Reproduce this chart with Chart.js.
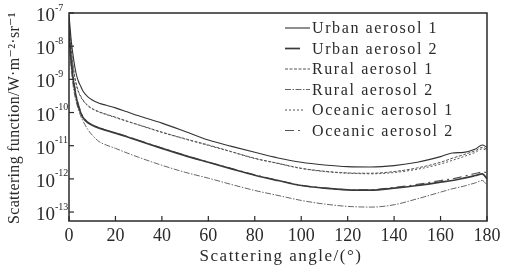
<!DOCTYPE html>
<html><head><meta charset="utf-8">
<script src="https://cdn.jsdelivr.net/npm/chart.js@4/dist/chart.umd.min.js"></script>
<style>html,body{margin:0;padding:0;background:#fff;}canvas{display:block;}</style>
</head><body>
<canvas id="c" width="505" height="271"></canvas>
<script>
const angles = [0,1,2,3,4,5,6,8,10,13,16,20,25,30,40,50,60,70,80,90,100,110,120,130,140,150,160,165,170,175,178,180];
const urban1 = [8.9e-8,1.41e-8,3.98e-9,1.58e-9,8.9e-10,6.3e-10,4.47e-10,3.02e-10,2.4e-10,1.9e-10,1.66e-10,1.38e-10,1.05e-10,7.94e-11,4.79e-11,2.69e-11,1.48e-11,9.55e-12,6.31e-12,4.27e-12,3.16e-12,2.63e-12,2.34e-12,2.29e-12,2.51e-12,3.16e-12,4.68e-12,6.03e-12,6.31e-12,7.94e-12,1.05e-11,8.91e-12];
const urban2 = [2.51e-8,3.16e-9,7.94e-10,3.16e-10,1.58e-10,1.0e-10,7.08e-11,5.01e-11,4.17e-11,3.39e-11,2.88e-11,2.4e-11,1.86e-11,1.41e-11,8.32e-12,5.01e-12,3.16e-12,2.0e-12,1.29e-12,8.91e-13,6.31e-13,5.25e-13,4.68e-13,4.57e-13,5.25e-13,6.31e-13,7.94e-13,8.91e-13,1.05e-12,1.26e-12,1.41e-12,1.0e-12];
const rural1 = [6.31e-8,7.94e-9,2.0e-9,7.94e-10,4.47e-10,3.16e-10,2.4e-10,1.66e-10,1.32e-10,1.05e-10,8.91e-11,7.24e-11,5.5e-11,4.27e-11,2.57e-11,1.62e-11,1.05e-11,6.61e-12,4.17e-12,2.95e-12,2.09e-12,1.7e-12,1.51e-12,1.48e-12,1.66e-12,2.14e-12,3.16e-12,4.17e-12,5.37e-12,7.08e-12,8.91e-12,7.94e-12];
const rural2 = [1.58e-8,2.0e-9,5.01e-10,2.24e-10,1.26e-10,7.94e-11,5.62e-11,3.16e-11,2.09e-11,1.32e-11,1.05e-11,8.32e-12,6.03e-12,4.47e-12,2.57e-12,1.58e-12,1.05e-12,6.76e-13,4.47e-13,3.16e-13,2.24e-13,1.74e-13,1.48e-13,1.41e-13,1.66e-13,2.51e-13,3.98e-13,5.01e-13,6.03e-13,7.59e-13,8.91e-13,6.31e-13];
const oceanic1 = [5.0e-8,6.5e-9,1.8e-9,7.5e-10,4.3e-10,3.0e-10,2.3e-10,1.6e-10,1.28e-10,1.02e-10,8.7e-11,7.0e-11,5.4e-11,4.2e-11,2.5e-11,1.58e-11,1.02e-11,6.5e-12,4.1e-12,2.9e-12,2.05e-12,1.66e-12,1.48e-12,1.42e-12,1.55e-12,1.95e-12,2.8e-12,3.6e-12,4.7e-12,6.3e-12,8.0e-12,7.2e-12];
const oceanic2 = [4.0e-8,4.5e-9,1.0e-9,3.6e-10,1.8e-10,1.1e-10,7.5e-11,5.2e-11,4.3e-11,3.5e-11,2.95e-11,2.45e-11,1.9e-11,1.45e-11,8.5e-12,5.1e-12,3.2e-12,2.05e-12,1.32e-12,9.1e-13,6.4e-13,5.3e-13,4.7e-13,4.7e-13,5.5e-13,6.8e-13,8.9e-13,1.0e-12,1.2e-12,1.45e-12,1.6e-12,1.55e-12];
const seriesNames = ["Urban aerosol 1","Urban aerosol 2","Rural aerosol 1","Rural aerosol 2","Oceanic aerosol 1","Oceanic aerosol 2"];
const xTicks = [0,20,40,60,80,100,120,140,160,180];
const yTickExps = [-7,-8,-9,-10,-11,-12,-13];
const xTitle = "Scattering angle/(\u00B0)";
const yTitle = "Scattering function/W\u00B7m\u207B\u00B2\u00B7sr\u207B\u00B9";

const serif = '"Liberation Serif","DejaVu Serif",serif';
const ink = '#2a2a2a';
function mk(arr){ return angles.map((a,i)=>({x:a,y:arr[i]})); }
const styles = [
  {c:'#333', w:1.1, d:[], leg:[285,310]},
  {c:'#3a3a3a', w:1.7, d:[], leg:[285,300]},
  {c:'#555', w:1.0, d:[3,1.5], leg:[285,310]},
  {c:'#666', w:1.0, d:[6,1.5,1.5,1.5], leg:[285,310]},
  {c:'#555', w:1.0, d:[2,2], leg:[285,305]},
  {c:'#555', w:1.2, d:[9,4,2,4], leg:[285,304]}
];
const dataArrs = [urban1,urban2,rural1,rural2,oceanic1,oceanic2];

const deco = {
  id:'deco',
  afterDraw(chart){
    const ctx = chart.ctx, xs = chart.scales.x, ys = chart.scales.y, a = chart.chartArea;
    ctx.save();
    ctx.strokeStyle = ink; ctx.lineWidth = 1.5; ctx.setLineDash([]);
    ctx.strokeRect(a.left, a.top, a.right-a.left, a.bottom-a.top);
    ctx.lineWidth = 1.2;
    xTicks.forEach(v=>{ const px = xs.getPixelForValue(v);
      ctx.beginPath(); ctx.moveTo(px,a.bottom); ctx.lineTo(px,a.bottom-5); ctx.stroke(); });
    yTickExps.forEach(e=>{ const py = ys.getPixelForValue(Math.pow(10,e));
      ctx.beginPath(); ctx.moveTo(a.left,py); ctx.lineTo(a.left+5,py); ctx.stroke(); });
    ctx.fillStyle = ink;
    ctx.font = '18px '+serif; ctx.textAlign='center'; ctx.textBaseline='middle';
    xTicks.forEach(v=>{ ctx.fillText(String(v), xs.getPixelForValue(v), 236); });
    yTickExps.forEach(e=>{ const py = ys.getPixelForValue(Math.pow(10,e));
      ctx.font = '19px '+serif; ctx.textAlign='right'; ctx.textBaseline='middle';
      ctx.fillText('10', 55, py+3);
      ctx.font = '10px '+serif; ctx.textAlign='left';
      ctx.fillText('-'+String(-e), 55, py-5);
    });
    ctx.font = '17px '+serif; ctx.textAlign='center'; ctx.textBaseline='middle';
    ctx.letterSpacing = '1.5px';
    ctx.fillText(xTitle, 281, 257);
    ctx.save();
    ctx.translate(15, 118); ctx.rotate(-Math.PI/2);
    ctx.letterSpacing = '0.3px';
    ctx.font = '16px '+serif;
    ctx.fillText(yTitle, 0, 0);
    ctx.restore();
    const rows = [28,48.5,69,89.5,110,130.5];
    ctx.font = '16px '+serif; ctx.textAlign='left'; ctx.textBaseline='middle';
    ctx.letterSpacing = '1.6px';
    chart.data.datasets.forEach((ds,i)=>{
      const s = styles[i], y = rows[i];
      ctx.strokeStyle = s.c; ctx.lineWidth = s.w; ctx.setLineDash(s.d);
      ctx.beginPath(); ctx.moveTo(s.leg[0], y); ctx.lineTo(s.leg[1], y); ctx.stroke();
      ctx.setLineDash([]);
      ctx.fillStyle = ink;
      ctx.fillText(ds.label, 312, y+1);
    });
    ctx.restore();
  }
};

new Chart(document.getElementById('c'), {
  type:'line',
  data:{ datasets: seriesNames.map((n,i)=>({
    label:n, data:mk(dataArrs[i]), borderColor:styles[i].c, borderWidth:styles[i].w,
    borderDash:styles[i].d, pointRadius:0, fill:false, cubicInterpolationMode:'monotone'
  }))},
  options:{
    responsive:false, animation:false, devicePixelRatio:1,
    layout:{padding:{top:13,right:18,left:0,bottom:0}},
    plugins:{legend:{display:false}, tooltip:{enabled:false}},
    scales:{
      x:{type:'linear', min:0, max:180, ticks:{display:false}, grid:{display:false}, border:{display:false},
         afterFit(s){ s.height = 50; }},
      y:{type:'logarithmic', min:5.37e-14, max:1e-7, ticks:{display:false}, grid:{display:false}, border:{display:false},
         afterFit(s){ s.width = 69; }}
    }
  },
  plugins:[deco]
});
</script>
</body></html>
